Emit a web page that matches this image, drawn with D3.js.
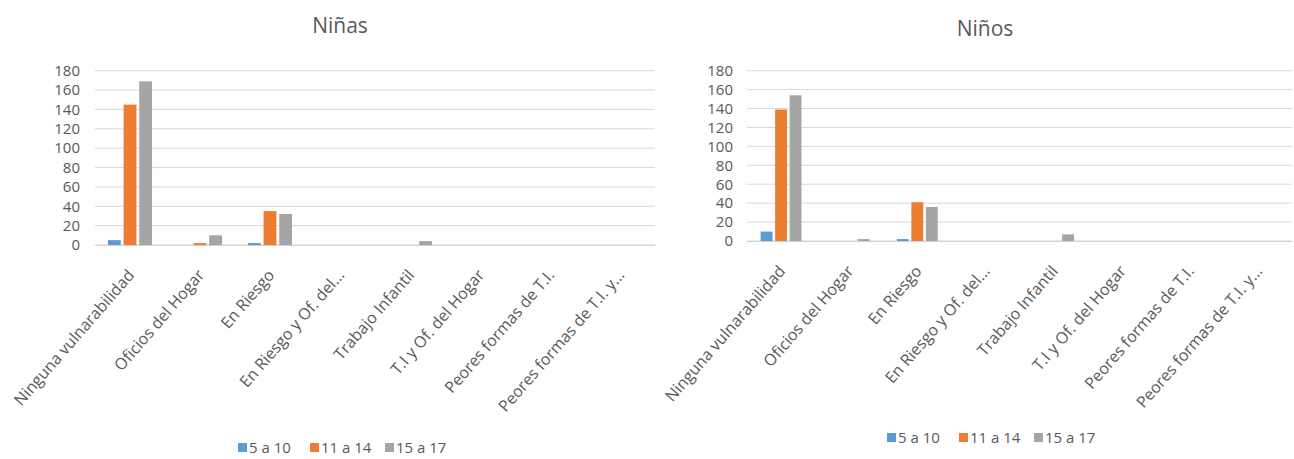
<!DOCTYPE html>
<html><head><meta charset="utf-8">
<script src="https://cdn.jsdelivr.net/npm/d3@7"></script>
<style>
html,body{margin:0;padding:0;background:#fff;}
text{font-family:"Open Sans",sans-serif;fill:#595959;}
</style></head>
<body>
<svg id="chart" width="1294" height="459"></svg>
<script>
const categories = ["Ninguna vulnarabilidad","Oficios del Hogar","En Riesgo","En Riesgo y Of. del...","Trabajo Infantil","T.I y Of. del Hogar","Peores formas de T.I.","Peores formas de T.I. y..."];
const seriesNames = ["5 a 10","11 a 14","15 a 17"];
const colors = ["#5b9bd5","#ed7d31","#a5a5a5"];
const yTicks = [0,20,40,60,80,100,120,140,160,180];

const ninas5a10  = [5,0,2,0,0,0,0,0];
const ninas11a14 = [145,2,35,0,0,0,0,0];
const ninas15a17 = [169,10,32,0,4,0,0,0];

const ninos5a10  = [10,0,2,0,0,0,0,0];
const ninos11a14 = [139,0,41,0,0,0,0,0];
const ninos15a17 = [154,2,36,0,7,0,0,0];

const svg = d3.select("#chart");

function drawChart(cfg){
  const g = svg.append("g");
  const x0 = d3.scaleBand().domain(categories).range([cfg.left, cfg.right]).paddingInner(cfg.pad).paddingOuter(cfg.pad/2);
  const x1 = d3.scaleBand().domain(seriesNames).range([0, x0.bandwidth()]).paddingInner(0.18);
  const y = d3.scaleLinear().domain([0,180]).range([cfg.bottom, cfg.top]);

  g.append("g").selectAll("line").data(yTicks).join("line")
    .attr("x1", cfg.left).attr("x2", cfg.right)
    .attr("y1", d=>y(d)).attr("y2", d=>y(d))
    .attr("stroke", "#d9d9d9").attr("stroke-width", 1);

  const yAxis = d3.axisLeft(y).tickValues(yTicks).tickSize(0).tickPadding(0);
  const ya = g.append("g").attr("transform", `translate(${cfg.ylabelX},0)`).call(yAxis);
  ya.select(".domain").remove();
  ya.selectAll("text").attr("font-size", 15).attr("fill", "#595959").style("font-family", "'Open Sans',sans-serif");

  const data = cfg.values;
  categories.forEach((c, i) => {
    seriesNames.forEach((s, j) => {
      const v = data[j][i];
      if (v <= 0) return;
      g.append("rect")
        .attr("x", x0(c) + x1(s))
        .attr("width", x1.bandwidth())
        .attr("y", y(v))
        .attr("height", y(0) - y(v))
        .attr("fill", colors[j]);
    });
  });

  const xAxis = d3.axisBottom(x0).tickSize(0).tickPadding(0);
  const xa = g.append("g").attr("transform", `translate(0,${cfg.bottom})`).call(xAxis);
  xa.select(".domain").attr("stroke", "#d0d0d0");
  xa.selectAll("text")
    .attr("font-size", 16)
    .attr("fill", "#595959")
    .style("font-family", "'Open Sans',sans-serif")
    .attr("text-anchor", "end")
    .attr("dy", "0.35em")
    .attr("transform", "translate(1,27) rotate(-49)");

  g.append("text").attr("x", cfg.titleX).attr("y", cfg.titleY)
    .attr("text-anchor", "middle").attr("font-size", 21).text(cfg.title);

  const lg = g.append("g").attr("transform", `translate(${cfg.legX},${cfg.legY})`);
  const offs = [0, 72, 147];
  seriesNames.forEach((s, j) => {
    lg.append("rect").attr("x", offs[j]).attr("y", -5).attr("width", 9).attr("height", 9).attr("fill", colors[j]);
    lg.append("text").attr("x", offs[j] + 11).attr("y", 0).attr("dy", "0.35em")
      .attr("font-size", 15).text(s);
  });
}

drawChart({left:95, right:655, top:70.7, bottom:245, pad:0.37, ylabelX:80,
  values:[ninas5a10, ninas11a14, ninas15a17], title:"Niñas", titleX:340, titleY:33, legX:238, legY:448});
drawChart({left:747, right:1292, top:70.7, bottom:241, pad:0.40, ylabelX:733,
  values:[ninos5a10, ninos11a14, ninos15a17], title:"Niños", titleX:985, titleY:36, legX:887, legY:438});
</script>
</body></html>
